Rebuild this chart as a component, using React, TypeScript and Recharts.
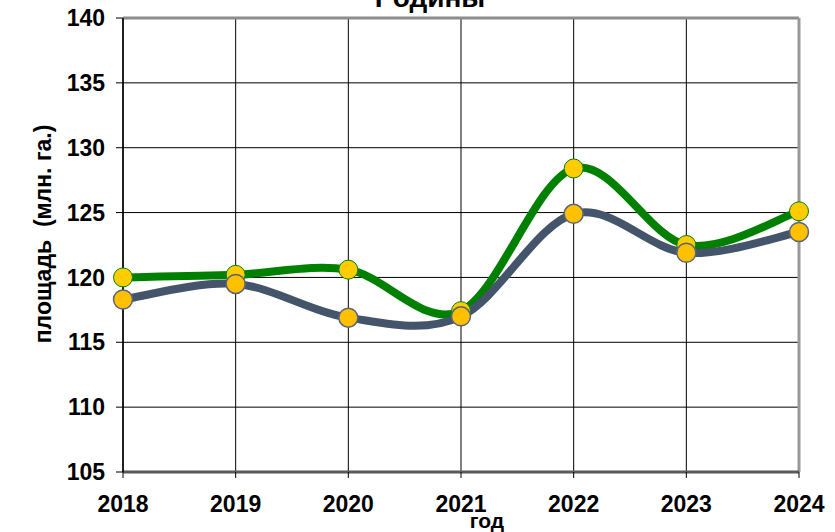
import { LineChart, Line, XAxis, YAxis, CartesianGrid, ReferenceLine } from 'recharts';

const years = ['2018', '2019', '2020', '2021', '2022', '2023', '2024'];
const greenValues = [120.0, 120.2, 120.6, 117.4, 128.4, 122.5, 125.1];
const grayValues = [118.3, 119.5, 116.9, 117.0, 124.9, 121.9, 123.5];
const yTicks = [105, 110, 115, 120, 125, 130, 135, 140];

const chartData = years.map((year, i) => ({
  year,
  green: greenValues[i],
  gray: grayValues[i],
}));

const FONT = '"Liberation Sans", Arial, sans-serif';

// smoothed line like the office "smooth line" option (catmull-rom)
const smoothCurve: any = (context: any) => {
  let pts: number[][] = [];
  return {
    areaStart() {},
    areaEnd() {},
    lineStart() {
      pts = [];
    },
    point(x: number, y: number) {
      pts.push([+x, +y]);
    },
    lineEnd() {
      if (!pts.length) return;
      context.moveTo(pts[0][0], pts[0][1]);
      for (let i = 0; i < pts.length - 1; i++) {
        const p0 = pts[i - 1] || pts[i];
        const p1 = pts[i];
        const p2 = pts[i + 1];
        const p3 = pts[i + 2] || p2;
        context.bezierCurveTo(
          p1[0] + (p2[0] - p0[0]) / 6,
          p1[1] + (p2[1] - p0[1]) / 6,
          p2[0] - (p3[0] - p1[0]) / 6,
          p2[1] - (p3[1] - p1[1]) / 6,
          p2[0],
          p2[1]
        );
      }
    },
  };
};

export default function App() {
  return (
    <div style={{ position: 'absolute', left: 0, top: 0, width: 835, height: 532, background: '#fff', overflow: 'hidden' }}>
      <div
        style={{
          position: 'absolute',
          left: 0,
          width: 860,
          top: -16,
          textAlign: 'center',
          fontFamily: FONT,
          fontWeight: 'bold',
          fontSize: 28,
          lineHeight: '28px',
          color: '#000',
        }}
      >
        Родины
      </div>
      <LineChart
        width={835}
        height={532}
        data={chartData}
        margin={{ top: 18, right: 36, bottom: 0, left: 0 }}
      >
        <CartesianGrid stroke="#000" strokeWidth={1} />
        <XAxis
          dataKey="year"
          height={60}
          axisLine={{ stroke: '#595959', strokeWidth: 3 }}
          tickLine={{ stroke: '#000' }}
          tickSize={6}
          tickMargin={18}
          tick={{ fill: '#000', fontFamily: FONT, fontWeight: 'bold', fontSize: 23 }}
          interval={0}
          label={{
            content: () => (
              <text x={487} y={528} textAnchor="middle" fontFamily={FONT} fontWeight="bold" fontSize={21} fill="#000">
                год
              </text>
            ),
          }}
        />
        <YAxis
          width={123}
          domain={[105, 140]}
          ticks={yTicks}
          axisLine={{ stroke: '#000', strokeWidth: 1.5 }}
          tickLine={{ stroke: '#000' }}
          tickSize={7}
          tickMargin={11}
          tick={{ fill: '#000', fontFamily: FONT, fontWeight: 'bold', fontSize: 23 }}
          label={{
            content: () => (
              <text
                x={43}
                y={234}
                transform="rotate(-90 43 234)"
                textAnchor="middle"
                dominantBaseline="central"
                fontFamily={FONT}
                fontWeight="bold"
                fontSize={23}
                fill="#000"
                style={{ whiteSpace: 'pre' }}
              >
                {'площадь  (млн. га.)'}
              </text>
            ),
          }}
        />
        <ReferenceLine y={140} stroke="#8c8c8c" strokeWidth={3} />
        <ReferenceLine x="2024" stroke="#999" strokeWidth={3} />
        <Line
          dataKey="green"
          type={smoothCurve}
          stroke="#008000"
          strokeWidth={8}
          dot={{ r: 9.5, fill: '#FFCC00', stroke: '#008000', strokeWidth: 1, fillOpacity: 1 }}
          activeDot={false}
          isAnimationActive={false}
        />
        <Line
          dataKey="gray"
          type={smoothCurve}
          stroke="#44546A"
          strokeWidth={8}
          dot={{ r: 9.5, fill: '#FFC000', stroke: '#5a6478', strokeWidth: 1.5, fillOpacity: 1 }}
          activeDot={false}
          isAnimationActive={false}
        />
      </LineChart>
    </div>
  );
}
